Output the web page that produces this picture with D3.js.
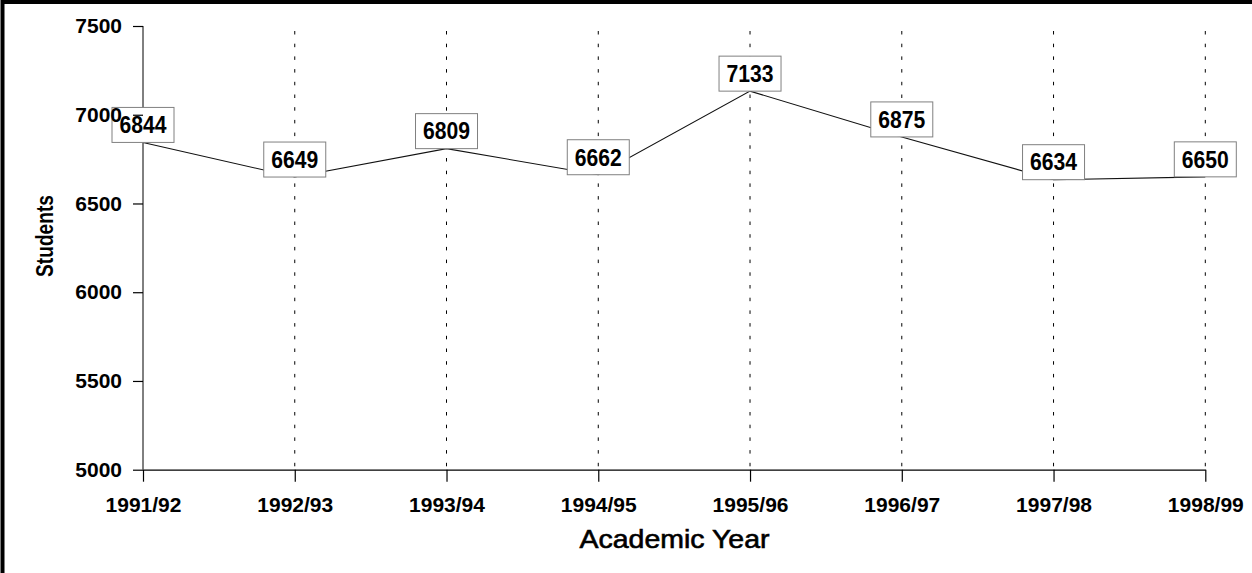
<!DOCTYPE html>
<html>
<head>
<meta charset="utf-8">
<script src="https://cdn.jsdelivr.net/npm/d3@7/dist/d3.min.js"></script>
<style>
  html, body { margin: 0; padding: 0; background: #fff; }
  svg { display: block; }
  text { font-family: "Liberation Sans", Arial, sans-serif; fill: #000; }
</style>
</head>
<body>
<svg id="chart" width="1252" height="573"></svg>
<script>
// Student enrolment by academic year
const years = ["1991/92", "1992/93", "1993/94", "1994/95", "1995/96", "1996/97", "1997/98", "1998/99"];
const students = [6844, 6649, 6809, 6662, 7133, 6875, 6634, 6650];
const yTicks = [5000, 5500, 6000, 6500, 7000, 7500];

const data = years.map((year, i) => ({ year, value: students[i] }));

const svg = d3.select("#chart");
const W = 1252, H = 573;

const x = d3.scalePoint().domain(years).range([143, 1205.3]);
const y = d3.scaleLinear().domain([5000, 7500]).range([469.7, 26]);

// frame around the figure
svg.append("path")
  .attr("d", `M2.5,${H} L2.5,2 L${W},2`)
  .attr("fill", "none")
  .attr("stroke", "#000")
  .attr("stroke-width", 4);

// dotted vertical guides at each year
svg.append("g")
  .selectAll("line")
  .data(years.slice(1))
  .join("line")
  .attr("x1", d => x(d)).attr("x2", d => x(d))
  .attr("y1", 31).attr("y2", y(5000))
  .attr("stroke", "#000")
  .attr("stroke-width", 1)
  .attr("stroke-dasharray", "3.5,9.2");

// y axis line
svg.append("line")
  .attr("x1", 143).attr("x2", 143)
  .attr("y1", y(7500)).attr("y2", y(5000))
  .attr("stroke", "#000").attr("stroke-width", 1);

// x axis
const xAxis = svg.append("g")
  .attr("transform", `translate(0,${y(5000)})`)
  .call(d3.axisBottom(x).tickSizeInner(12).tickSizeOuter(0).tickPadding(15));
xAxis.select(".domain").attr("stroke", "#000").attr("stroke-width", 1.2);
xAxis.selectAll(".tick line").attr("stroke", "#000").attr("stroke-width", 1.2);
xAxis.selectAll(".tick text")
  .attr("font-family", "Liberation Sans, Arial, sans-serif")
  .attr("font-size", 21)
  .attr("font-weight", "bold")
  .attr("fill", "#000");

// enrolment line
const line = d3.line().x(d => x(d.year)).y(d => y(d.value));
svg.append("path")
  .datum(data)
  .attr("d", line)
  .attr("fill", "none")
  .attr("stroke", "#111")
  .attr("stroke-width", 1.1);

// value labels in boxes sitting on each point
const boxW = 62, boxH = 35;
const labels = svg.append("g")
  .selectAll("g")
  .data(data)
  .join("g")
  .attr("transform", d => `translate(${x(d.year)},${y(d.value)})`);
labels.append("rect")
  .attr("x", -boxW / 2).attr("y", -boxH)
  .attr("width", boxW).attr("height", boxH)
  .attr("fill", "#fff")
  .attr("stroke", "#808080")
  .attr("stroke-width", 1);
labels.append("text")
  .attr("x", 0).attr("y", -boxH / 2)
  .attr("dy", "0.36em")
  .attr("text-anchor", "middle")
  .attr("font-size", 23)
  .attr("font-weight", "bold")
  .attr("textLength", 47)
  .attr("lengthAdjust", "spacingAndGlyphs")
  .text(d => d.value);

// y axis ticks and labels
const yAxis = svg.append("g")
  .attr("transform", "translate(143,0)")
  .call(d3.axisLeft(y).tickValues(yTicks).tickFormat(d3.format("d"))
    .tickSizeInner(10).tickSizeOuter(0).tickPadding(11));
yAxis.select(".domain").remove();
yAxis.selectAll(".tick line").attr("stroke", "#000").attr("stroke-width", 1.2);
yAxis.selectAll(".tick text")
  .attr("font-family", "Liberation Sans, Arial, sans-serif")
  .attr("font-size", 21)
  .attr("font-weight", "bold")
  .attr("fill", "#000");

// axis titles
svg.append("text")
  .attr("x", 674.5).attr("y", 548)
  .attr("text-anchor", "middle")
  .attr("font-size", 26)
  .attr("stroke", "#000")
  .attr("stroke-width", 0.6)
  .attr("textLength", 190)
  .attr("lengthAdjust", "spacingAndGlyphs")
  .text("Academic Year");

svg.append("text")
  .attr("transform", "translate(53,236) rotate(-90)")
  .attr("text-anchor", "middle")
  .attr("font-size", 23)
  .attr("font-weight", "bold")
  .attr("textLength", 82)
  .attr("lengthAdjust", "spacingAndGlyphs")
  .text("Students");
</script>
</body>
</html>
